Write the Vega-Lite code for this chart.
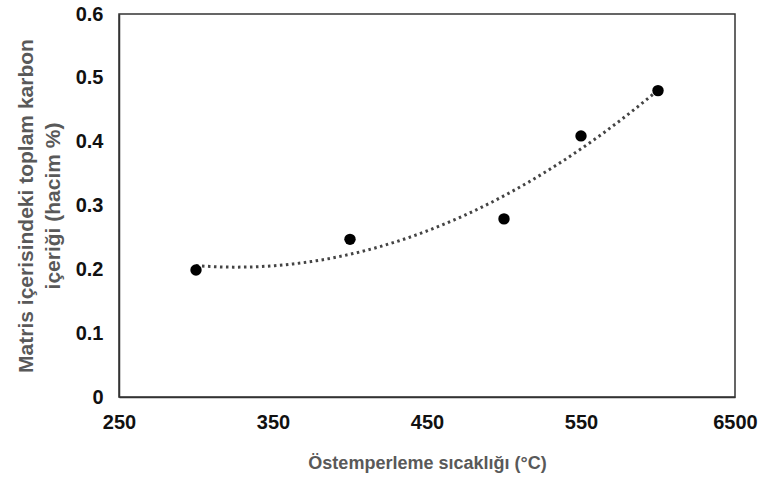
{
  "$schema": "https://vega.github.io/schema/vega-lite/v6.json",
  "width": 616,
  "height": 383,
  "autosize": {"type": "none"},
  "padding": {"left": 119, "top": 14, "right": 23, "bottom": 80},
  "background": "white",
  "config": {
    "view": {"stroke": "#333333", "strokeWidth": 1.5},
    "font": "Liberation Sans"
  },
  "data": {
    "values": [
      {"x": 300, "y": 0.199},
      {"x": 400, "y": 0.247},
      {"x": 500, "y": 0.279},
      {"x": 550, "y": 0.409},
      {"x": 600, "y": 0.48}
    ]
  },
  "layer": [
    {
      "transform": [
        {"regression": "y", "on": "x", "method": "poly", "order": 2, "extent": [300, 600]}
      ],
      "mark": {"type": "line", "color": "#444444", "strokeWidth": 3, "strokeDash": [2.5, 3.5], "strokeCap": "butt"},
      "encoding": {
        "x": {"field": "x", "type": "quantitative"},
        "y": {"field": "y", "type": "quantitative"}
      }
    },
    {
      "mark": {"type": "circle", "color": "black", "opacity": 1, "size": 130},
      "encoding": {
        "x": {
          "field": "x",
          "type": "quantitative",
          "scale": {"domain": [250, 650], "nice": false, "zero": false},
          "axis": {
            "values": [250, 350, 450, 550, 650],
            "labelExpr": "datum.value == 650 ? '6500' : datum.label",
            "title": "Östemperleme sıcaklığı (°C)",
            "grid": false,
            "ticks": false,
            "domainColor": "#333333",
            "domainWidth": 1.5,
            "labelFontSize": 20,
            "labelFontWeight": "bold",
            "labelColor": "#111111",
            "labelPadding": 15,
            "labelFlush": false,
            "labelOverlap": false,
            "titleFontSize": 18,
            "titleFontWeight": "bold",
            "titleColor": "#595959",
            "titlePadding": 22
          }
        },
        "y": {
          "field": "y",
          "type": "quantitative",
          "scale": {"domain": [0, 0.6], "nice": false},
          "axis": {
            "values": [0, 0.1, 0.2, 0.3, 0.4, 0.5, 0.6],
            "labelExpr": "datum.value == 0 ? '0' : format(datum.value, '.1f')",
            "title": ["Matris içerisindeki toplam karbon", "içeriği (hacim %)"],
            "grid": false,
            "ticks": false,
            "domainColor": "#333333",
            "domainWidth": 1.5,
            "labelFontSize": 20,
            "labelFontWeight": "bold",
            "labelColor": "#111111",
            "labelPadding": 16,
            "labelFlush": false,
            "titleFontSize": 21,
            "titleFontWeight": "bold",
            "titleColor": "#595959",
            "titleLineHeight": 27,
            "titlePadding": 12
          }
        }
      }
    }
  ]
}
